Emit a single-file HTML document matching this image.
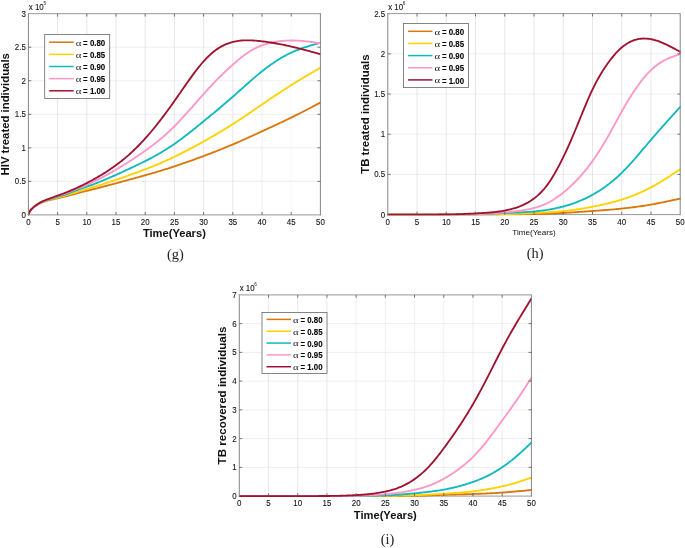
<!DOCTYPE html>
<html><head><meta charset="utf-8"><title>Figure</title>
<style>html,body{margin:0;padding:0;background:#fff}svg{display:block}</style></head>
<body>
<svg width="685" height="548" viewBox="0 0 685 548" font-family="'Liberation Sans',sans-serif">
<rect width="685" height="548" fill="#fff"/>
<path d="M28.40 181.37H320.40M28.40 147.83H320.40M28.40 114.30H320.40M28.40 80.77H320.40M28.40 47.23H320.40" stroke="#e7e7e7" stroke-width="0.7" fill="none"/>
<path d="M57.60 13.70V214.90" stroke="#dcdcdc" stroke-width="0.7" stroke-opacity="1.00" fill="none"/>
<path d="M86.80 13.70V214.90" stroke="#dcdcdc" stroke-width="0.7" stroke-opacity="1.00" fill="none"/>
<path d="M116.00 13.70V214.90" stroke="#dcdcdc" stroke-width="0.7" stroke-opacity="1.00" fill="none"/>
<path d="M145.20 13.70V214.90" stroke="#dcdcdc" stroke-width="0.7" stroke-opacity="1.00" fill="none"/>
<path d="M174.40 13.70V214.90" stroke="#dcdcdc" stroke-width="0.7" stroke-opacity="1.00" fill="none"/>
<path d="M203.60 13.70V214.90" stroke="#dcdcdc" stroke-width="0.7" stroke-opacity="1.00" fill="none"/>
<path d="M232.80 13.70V214.90" stroke="#dcdcdc" stroke-width="0.7" stroke-opacity="1.00" fill="none"/>
<path d="M262.00 13.70V214.90" stroke="#dcdcdc" stroke-width="0.7" stroke-opacity="0.60" fill="none"/>
<path d="M291.20 13.70V214.90" stroke="#dcdcdc" stroke-width="0.7" stroke-opacity="0.25" fill="none"/>
<path d="M28.40 13.70H320.40M28.40 214.90H320.40" stroke="#989898" stroke-width="1" fill="none"/>
<clipPath id="cg"><rect x="27.90" y="13.70" width="293.20" height="202.20"/></clipPath>
<g clip-path="url(#cg)" fill="none" stroke-width="1.85" stroke-linejoin="round" stroke-linecap="round">
<path d="M28.40 214.30 L29.86 211.07 L31.32 209.46 L32.78 208.07 L34.24 206.85 L35.70 205.79 L37.16 204.86 L38.62 204.03 L40.08 203.29 L41.54 202.64 L43.00 202.07 L44.46 201.56 L45.92 201.10 L47.38 200.69 L48.84 200.31 L50.30 199.95 L51.76 199.61 L53.22 199.28 L54.68 198.95 L56.14 198.62 L57.60 198.29 L59.06 197.95 L60.52 197.61 L61.98 197.26 L63.44 196.91 L64.90 196.55 L66.36 196.19 L67.82 195.82 L69.28 195.45 L70.74 195.06 L72.20 194.67 L73.66 194.28 L75.12 193.88 L76.58 193.48 L78.04 193.09 L79.50 192.70 L80.96 192.32 L82.42 191.94 L83.88 191.57 L85.34 191.20 L86.80 190.84 L88.26 190.48 L89.72 190.12 L91.18 189.76 L92.64 189.39 L94.10 189.02 L95.56 188.65 L97.02 188.28 L98.48 187.90 L99.94 187.52 L101.40 187.14 L102.86 186.76 L104.32 186.37 L105.78 185.99 L107.24 185.60 L108.70 185.22 L110.16 184.83 L111.62 184.44 L113.08 184.05 L114.54 183.66 L116.00 183.27 L117.46 182.88 L118.92 182.49 L120.38 182.10 L121.84 181.70 L123.30 181.31 L124.76 180.92 L126.22 180.52 L127.68 180.13 L129.14 179.73 L130.60 179.33 L132.06 178.93 L133.52 178.53 L134.98 178.12 L136.44 177.72 L137.90 177.31 L139.36 176.90 L140.82 176.49 L142.28 176.08 L143.74 175.67 L145.20 175.26 L146.66 174.85 L148.12 174.44 L149.58 174.02 L151.04 173.61 L152.50 173.19 L153.96 172.77 L155.42 172.34 L156.88 171.91 L158.34 171.47 L159.80 171.03 L161.26 170.59 L162.72 170.14 L164.18 169.69 L165.64 169.23 L167.10 168.77 L168.56 168.30 L170.02 167.83 L171.48 167.36 L172.94 166.88 L174.40 166.40 L175.86 165.91 L177.32 165.42 L178.78 164.93 L180.24 164.43 L181.70 163.93 L183.16 163.43 L184.62 162.92 L186.08 162.41 L187.54 161.89 L189.00 161.38 L190.46 160.86 L191.92 160.33 L193.38 159.81 L194.84 159.28 L196.30 158.74 L197.76 158.21 L199.22 157.67 L200.68 157.13 L202.14 156.58 L203.60 156.04 L205.06 155.49 L206.52 154.94 L207.98 154.38 L209.44 153.83 L210.90 153.27 L212.36 152.71 L213.82 152.14 L215.28 151.57 L216.74 151.00 L218.20 150.42 L219.66 149.84 L221.12 149.25 L222.58 148.67 L224.04 148.07 L225.50 147.48 L226.96 146.88 L228.42 146.27 L229.88 145.66 L231.34 145.04 L232.80 144.42 L234.26 143.80 L235.72 143.17 L237.18 142.53 L238.64 141.89 L240.10 141.25 L241.56 140.60 L243.02 139.95 L244.48 139.30 L245.94 138.64 L247.40 137.98 L248.86 137.32 L250.32 136.66 L251.78 135.99 L253.24 135.32 L254.70 134.66 L256.16 133.99 L257.62 133.32 L259.08 132.64 L260.54 131.97 L262.00 131.30 L263.46 130.63 L264.92 129.96 L266.38 129.29 L267.84 128.62 L269.30 127.95 L270.76 127.27 L272.22 126.60 L273.68 125.92 L275.14 125.25 L276.60 124.57 L278.06 123.89 L279.52 123.20 L280.98 122.51 L282.44 121.82 L283.90 121.13 L285.36 120.43 L286.82 119.73 L288.28 119.03 L289.74 118.32 L291.20 117.60 L292.66 116.88 L294.12 116.16 L295.58 115.43 L297.04 114.70 L298.50 113.96 L299.96 113.22 L301.42 112.48 L302.88 111.73 L304.34 110.98 L305.80 110.23 L307.26 109.47 L308.72 108.72 L310.18 107.96 L311.64 107.20 L313.10 106.43 L314.56 105.67 L316.02 104.91 L317.48 104.14 L318.94 103.38 L320.40 102.61" stroke="#D9770B"/>
<path d="M28.40 214.30 L29.86 211.06 L31.32 209.43 L32.78 208.02 L34.24 206.78 L35.70 205.69 L37.16 204.72 L38.62 203.86 L40.08 203.09 L41.54 202.41 L43.00 201.80 L44.46 201.25 L45.92 200.75 L47.38 200.30 L48.84 199.88 L50.30 199.48 L51.76 199.10 L53.22 198.72 L54.68 198.34 L56.14 197.96 L57.60 197.58 L59.06 197.20 L60.52 196.81 L61.98 196.41 L63.44 196.01 L64.90 195.60 L66.36 195.18 L67.82 194.76 L69.28 194.33 L70.74 193.90 L72.20 193.45 L73.66 193.00 L75.12 192.55 L76.58 192.09 L78.04 191.64 L79.50 191.19 L80.96 190.74 L82.42 190.30 L83.88 189.86 L85.34 189.42 L86.80 188.99 L88.26 188.56 L89.72 188.13 L91.18 187.70 L92.64 187.26 L94.10 186.82 L95.56 186.37 L97.02 185.92 L98.48 185.47 L99.94 185.01 L101.40 184.55 L102.86 184.09 L104.32 183.62 L105.78 183.15 L107.24 182.68 L108.70 182.20 L110.16 181.72 L111.62 181.24 L113.08 180.76 L114.54 180.27 L116.00 179.78 L117.46 179.28 L118.92 178.78 L120.38 178.28 L121.84 177.78 L123.30 177.28 L124.76 176.77 L126.22 176.26 L127.68 175.75 L129.14 175.23 L130.60 174.71 L132.06 174.20 L133.52 173.68 L134.98 173.15 L136.44 172.63 L137.90 172.10 L139.36 171.57 L140.82 171.03 L142.28 170.49 L143.74 169.94 L145.20 169.39 L146.66 168.83 L148.12 168.26 L149.58 167.69 L151.04 167.10 L152.50 166.52 L153.96 165.92 L155.42 165.31 L156.88 164.70 L158.34 164.08 L159.80 163.45 L161.26 162.81 L162.72 162.16 L164.18 161.51 L165.64 160.85 L167.10 160.18 L168.56 159.50 L170.02 158.82 L171.48 158.13 L172.94 157.44 L174.40 156.73 L175.86 156.03 L177.32 155.31 L178.78 154.60 L180.24 153.87 L181.70 153.14 L183.16 152.40 L184.62 151.66 L186.08 150.92 L187.54 150.16 L189.00 149.40 L190.46 148.64 L191.92 147.87 L193.38 147.10 L194.84 146.32 L196.30 145.53 L197.76 144.74 L199.22 143.95 L200.68 143.14 L202.14 142.34 L203.60 141.53 L205.06 140.71 L206.52 139.89 L207.98 139.06 L209.44 138.23 L210.90 137.39 L212.36 136.55 L213.82 135.70 L215.28 134.85 L216.74 133.99 L218.20 133.12 L219.66 132.25 L221.12 131.37 L222.58 130.48 L224.04 129.59 L225.50 128.69 L226.96 127.79 L228.42 126.88 L229.88 125.96 L231.34 125.04 L232.80 124.11 L234.26 123.17 L235.72 122.22 L237.18 121.27 L238.64 120.31 L240.10 119.35 L241.56 118.38 L243.02 117.41 L244.48 116.43 L245.94 115.45 L247.40 114.47 L248.86 113.48 L250.32 112.49 L251.78 111.50 L253.24 110.50 L254.70 109.50 L256.16 108.51 L257.62 107.51 L259.08 106.51 L260.54 105.51 L262.00 104.51 L263.46 103.51 L264.92 102.52 L266.38 101.52 L267.84 100.53 L269.30 99.53 L270.76 98.55 L272.22 97.56 L273.68 96.58 L275.14 95.60 L276.60 94.62 L278.06 93.65 L279.52 92.68 L280.98 91.72 L282.44 90.76 L283.90 89.81 L285.36 88.86 L286.82 87.92 L288.28 86.98 L289.74 86.06 L291.20 85.14 L292.66 84.22 L294.12 83.32 L295.58 82.42 L297.04 81.52 L298.50 80.64 L299.96 79.75 L301.42 78.88 L302.88 78.01 L304.34 77.14 L305.80 76.28 L307.26 75.42 L308.72 74.56 L310.18 73.71 L311.64 72.86 L313.10 72.01 L314.56 71.16 L316.02 70.32 L317.48 69.47 L318.94 68.63 L320.40 67.79" stroke="#FFD200"/>
<path d="M28.40 214.30 L29.86 211.07 L31.32 209.43 L32.78 208.01 L34.24 206.75 L35.70 205.65 L37.16 204.66 L38.62 203.78 L40.08 202.98 L41.54 202.26 L43.00 201.62 L44.46 201.03 L45.92 200.49 L47.38 199.99 L48.84 199.52 L50.30 199.08 L51.76 198.64 L53.22 198.21 L54.68 197.77 L56.14 197.33 L57.60 196.88 L59.06 196.43 L60.52 195.97 L61.98 195.50 L63.44 195.02 L64.90 194.53 L66.36 194.03 L67.82 193.53 L69.28 193.01 L70.74 192.49 L72.20 191.95 L73.66 191.41 L75.12 190.87 L76.58 190.33 L78.04 189.79 L79.50 189.25 L80.96 188.72 L82.42 188.20 L83.88 187.68 L85.34 187.17 L86.80 186.66 L88.26 186.15 L89.72 185.63 L91.18 185.11 L92.64 184.57 L94.10 184.03 L95.56 183.47 L97.02 182.90 L98.48 182.33 L99.94 181.74 L101.40 181.15 L102.86 180.55 L104.32 179.95 L105.78 179.33 L107.24 178.71 L108.70 178.09 L110.16 177.45 L111.62 176.82 L113.08 176.17 L114.54 175.53 L116.00 174.87 L117.46 174.22 L118.92 173.56 L120.38 172.90 L121.84 172.23 L123.30 171.56 L124.76 170.89 L126.22 170.21 L127.68 169.53 L129.14 168.85 L130.60 168.16 L132.06 167.47 L133.52 166.78 L134.98 166.08 L136.44 165.38 L137.90 164.68 L139.36 163.96 L140.82 163.25 L142.28 162.53 L143.74 161.80 L145.20 161.07 L146.66 160.33 L148.12 159.58 L149.58 158.83 L151.04 158.06 L152.50 157.28 L153.96 156.50 L155.42 155.70 L156.88 154.88 L158.34 154.05 L159.80 153.21 L161.26 152.35 L162.72 151.47 L164.18 150.58 L165.64 149.68 L167.10 148.76 L168.56 147.82 L170.02 146.87 L171.48 145.90 L172.94 144.91 L174.40 143.91 L175.86 142.89 L177.32 141.85 L178.78 140.80 L180.24 139.74 L181.70 138.65 L183.16 137.56 L184.62 136.45 L186.08 135.33 L187.54 134.20 L189.00 133.06 L190.46 131.91 L191.92 130.75 L193.38 129.59 L194.84 128.41 L196.30 127.23 L197.76 126.05 L199.22 124.86 L200.68 123.67 L202.14 122.47 L203.60 121.28 L205.06 120.08 L206.52 118.89 L207.98 117.69 L209.44 116.49 L210.90 115.29 L212.36 114.09 L213.82 112.88 L215.28 111.67 L216.74 110.46 L218.20 109.24 L219.66 108.01 L221.12 106.78 L222.58 105.55 L224.04 104.31 L225.50 103.06 L226.96 101.81 L228.42 100.55 L229.88 99.28 L231.34 98.01 L232.80 96.73 L234.26 95.44 L235.72 94.15 L237.18 92.85 L238.64 91.55 L240.10 90.25 L241.56 88.94 L243.02 87.64 L244.48 86.34 L245.94 85.04 L247.40 83.74 L248.86 82.45 L250.32 81.17 L251.78 79.89 L253.24 78.63 L254.70 77.37 L256.16 76.13 L257.62 74.90 L259.08 73.69 L260.54 72.50 L262.00 71.33 L263.46 70.17 L264.92 69.04 L266.38 67.93 L267.84 66.84 L269.30 65.77 L270.76 64.72 L272.22 63.70 L273.68 62.70 L275.14 61.72 L276.60 60.77 L278.06 59.84 L279.52 58.94 L280.98 58.06 L282.44 57.21 L283.90 56.38 L285.36 55.58 L286.82 54.80 L288.28 54.05 L289.74 53.33 L291.20 52.64 L292.66 51.97 L294.12 51.33 L295.58 50.72 L297.04 50.12 L298.50 49.56 L299.96 49.01 L301.42 48.48 L302.88 47.97 L304.34 47.47 L305.80 47.00 L307.26 46.53 L308.72 46.08 L310.18 45.64 L311.64 45.21 L313.10 44.78 L314.56 44.37 L316.02 43.96 L317.48 43.55 L318.94 43.15 L320.40 42.75" stroke="#10B9BD"/>
<path d="M28.40 214.30 L29.86 211.06 L31.32 209.40 L32.78 207.96 L34.24 206.69 L35.70 205.55 L37.16 204.54 L38.62 203.62 L40.08 202.79 L41.54 202.04 L43.00 201.36 L44.46 200.74 L45.92 200.16 L47.38 199.62 L48.84 199.11 L50.30 198.62 L51.76 198.13 L53.22 197.65 L54.68 197.17 L56.14 196.68 L57.60 196.18 L59.06 195.68 L60.52 195.16 L61.98 194.64 L63.44 194.11 L64.90 193.57 L66.36 193.02 L67.82 192.46 L69.28 191.89 L70.74 191.32 L72.20 190.73 L73.66 190.14 L75.12 189.54 L76.58 188.94 L78.04 188.34 L79.50 187.73 L80.96 187.13 L82.42 186.53 L83.88 185.93 L85.34 185.32 L86.80 184.71 L88.26 184.09 L89.72 183.45 L91.18 182.81 L92.64 182.14 L94.10 181.46 L95.56 180.76 L97.02 180.05 L98.48 179.32 L99.94 178.58 L101.40 177.83 L102.86 177.06 L104.32 176.28 L105.78 175.49 L107.24 174.68 L108.70 173.87 L110.16 173.04 L111.62 172.21 L113.08 171.36 L114.54 170.51 L116.00 169.65 L117.46 168.78 L118.92 167.91 L120.38 167.03 L121.84 166.14 L123.30 165.24 L124.76 164.33 L126.22 163.42 L127.68 162.50 L129.14 161.57 L130.60 160.64 L132.06 159.69 L133.52 158.74 L134.98 157.77 L136.44 156.80 L137.90 155.82 L139.36 154.82 L140.82 153.82 L142.28 152.81 L143.74 151.78 L145.20 150.75 L146.66 149.70 L148.12 148.64 L149.58 147.57 L151.04 146.48 L152.50 145.37 L153.96 144.25 L155.42 143.11 L156.88 141.95 L158.34 140.77 L159.80 139.57 L161.26 138.35 L162.72 137.11 L164.18 135.84 L165.64 134.55 L167.10 133.24 L168.56 131.90 L170.02 130.53 L171.48 129.14 L172.94 127.73 L174.40 126.28 L175.86 124.81 L177.32 123.31 L178.78 121.78 L180.24 120.23 L181.70 118.67 L183.16 117.08 L184.62 115.48 L186.08 113.86 L187.54 112.23 L189.00 110.59 L190.46 108.94 L191.92 107.28 L193.38 105.62 L194.84 103.96 L196.30 102.29 L197.76 100.63 L199.22 98.97 L200.68 97.32 L202.14 95.67 L203.60 94.04 L205.06 92.41 L206.52 90.80 L207.98 89.20 L209.44 87.62 L210.90 86.05 L212.36 84.50 L213.82 82.96 L215.28 81.45 L216.74 79.95 L218.20 78.47 L219.66 77.00 L221.12 75.56 L222.58 74.14 L224.04 72.74 L225.50 71.35 L226.96 69.98 L228.42 68.63 L229.88 67.29 L231.34 65.97 L232.80 64.66 L234.26 63.37 L235.72 62.10 L237.18 60.84 L238.64 59.62 L240.10 58.41 L241.56 57.24 L243.02 56.11 L244.48 55.01 L245.94 53.95 L247.40 52.93 L248.86 51.96 L250.32 51.05 L251.78 50.18 L253.24 49.36 L254.70 48.59 L256.16 47.87 L257.62 47.19 L259.08 46.55 L260.54 45.95 L262.00 45.39 L263.46 44.86 L264.92 44.37 L266.38 43.92 L267.84 43.49 L269.30 43.10 L270.76 42.74 L272.22 42.41 L273.68 42.11 L275.14 41.84 L276.60 41.60 L278.06 41.38 L279.52 41.19 L280.98 41.03 L282.44 40.89 L283.90 40.77 L285.36 40.68 L286.82 40.61 L288.28 40.55 L289.74 40.52 L291.20 40.51 L292.66 40.52 L294.12 40.54 L295.58 40.58 L297.04 40.64 L298.50 40.72 L299.96 40.81 L301.42 40.91 L302.88 41.03 L304.34 41.17 L305.80 41.31 L307.26 41.47 L308.72 41.64 L310.18 41.82 L311.64 42.01 L313.10 42.21 L314.56 42.41 L316.02 42.61 L317.48 42.83 L318.94 43.04 L320.40 43.25" stroke="#FF97C6"/>
<path d="M28.40 214.30 L29.86 211.05 L31.32 209.38 L32.78 207.92 L34.24 206.63 L35.70 205.48 L37.16 204.44 L38.62 203.50 L40.08 202.65 L41.54 201.88 L43.00 201.17 L44.46 200.52 L45.92 199.91 L47.38 199.34 L48.84 198.80 L50.30 198.28 L51.76 197.76 L53.22 197.25 L54.68 196.73 L56.14 196.21 L57.60 195.69 L59.06 195.15 L60.52 194.61 L61.98 194.05 L63.44 193.49 L64.90 192.92 L66.36 192.34 L67.82 191.75 L69.28 191.15 L70.74 190.54 L72.20 189.91 L73.66 189.28 L75.12 188.64 L76.58 187.98 L78.04 187.31 L79.50 186.64 L80.96 185.94 L82.42 185.24 L83.88 184.52 L85.34 183.79 L86.80 183.05 L88.26 182.30 L89.72 181.54 L91.18 180.76 L92.64 179.97 L94.10 179.16 L95.56 178.35 L97.02 177.52 L98.48 176.67 L99.94 175.81 L101.40 174.93 L102.86 174.04 L104.32 173.13 L105.78 172.20 L107.24 171.26 L108.70 170.29 L110.16 169.31 L111.62 168.31 L113.08 167.29 L114.54 166.25 L116.00 165.19 L117.46 164.11 L118.92 163.00 L120.38 161.88 L121.84 160.73 L123.30 159.55 L124.76 158.35 L126.22 157.12 L127.68 155.86 L129.14 154.58 L130.60 153.26 L132.06 151.92 L133.52 150.54 L134.98 149.14 L136.44 147.70 L137.90 146.23 L139.36 144.74 L140.82 143.22 L142.28 141.67 L143.74 140.08 L145.20 138.48 L146.66 136.84 L148.12 135.18 L149.58 133.49 L151.04 131.77 L152.50 130.03 L153.96 128.26 L155.42 126.46 L156.88 124.64 L158.34 122.80 L159.80 120.93 L161.26 119.04 L162.72 117.12 L164.18 115.18 L165.64 113.22 L167.10 111.24 L168.56 109.24 L170.02 107.21 L171.48 105.17 L172.94 103.12 L174.40 101.05 L175.86 98.96 L177.32 96.87 L178.78 94.77 L180.24 92.67 L181.70 90.56 L183.16 88.46 L184.62 86.36 L186.08 84.28 L187.54 82.20 L189.00 80.14 L190.46 78.11 L191.92 76.09 L193.38 74.10 L194.84 72.15 L196.30 70.23 L197.76 68.35 L199.22 66.52 L200.68 64.74 L202.14 63.02 L203.60 61.36 L205.06 59.76 L206.52 58.22 L207.98 56.76 L209.44 55.35 L210.90 54.02 L212.36 52.75 L213.82 51.55 L215.28 50.42 L216.74 49.36 L218.20 48.37 L219.66 47.45 L221.12 46.60 L222.58 45.81 L224.04 45.09 L225.50 44.43 L226.96 43.83 L228.42 43.28 L229.88 42.79 L231.34 42.35 L232.80 41.96 L234.26 41.62 L235.72 41.32 L237.18 41.06 L238.64 40.85 L240.10 40.67 L241.56 40.54 L243.02 40.43 L244.48 40.36 L245.94 40.32 L247.40 40.30 L248.86 40.31 L250.32 40.35 L251.78 40.41 L253.24 40.49 L254.70 40.58 L256.16 40.70 L257.62 40.83 L259.08 40.98 L260.54 41.14 L262.00 41.31 L263.46 41.49 L264.92 41.68 L266.38 41.88 L267.84 42.09 L269.30 42.31 L270.76 42.53 L272.22 42.77 L273.68 43.01 L275.14 43.26 L276.60 43.52 L278.06 43.79 L279.52 44.06 L280.98 44.35 L282.44 44.64 L283.90 44.94 L285.36 45.24 L286.82 45.56 L288.28 45.88 L289.74 46.20 L291.20 46.54 L292.66 46.88 L294.12 47.23 L295.58 47.58 L297.04 47.94 L298.50 48.30 L299.96 48.67 L301.42 49.05 L302.88 49.43 L304.34 49.81 L305.80 50.19 L307.26 50.58 L308.72 50.98 L310.18 51.37 L311.64 51.77 L313.10 52.17 L314.56 52.57 L316.02 52.97 L317.48 53.38 L318.94 53.78 L320.40 54.19" stroke="#A1122F"/>
</g>
<path d="M28.40 13.70V214.90M320.40 13.70V214.90" stroke="#858585" stroke-width="1" stroke-linecap="square" fill="none"/>
<path d="M57.60 214.90v-2.9M57.60 13.70v2.9M86.80 214.90v-2.9M86.80 13.70v2.9M116.00 214.90v-2.9M116.00 13.70v2.9M145.20 214.90v-2.9M145.20 13.70v2.9M174.40 214.90v-2.9M174.40 13.70v2.9M203.60 214.90v-2.9M203.60 13.70v2.9M232.80 214.90v-2.9M232.80 13.70v2.9M262.00 214.90v-2.9M262.00 13.70v2.9M291.20 214.90v-2.9M291.20 13.70v2.9M28.40 181.37h2.9M320.40 181.37h-2.9M28.40 147.83h2.9M320.40 147.83h-2.9M28.40 114.30h2.9M320.40 114.30h-2.9M28.40 80.77h2.9M320.40 80.77h-2.9M28.40 47.23h2.9M320.40 47.23h-2.9" stroke="#555" stroke-width="0.8" fill="none"/>
<g font-size="8.90" fill="#111" stroke="#111" stroke-width="0.1">
<text transform="translate(28.40 225.10) scale(0.89 1)" text-anchor="middle">0</text>
<text transform="translate(57.60 225.10) scale(0.89 1)" text-anchor="middle">5</text>
<text transform="translate(86.80 225.10) scale(0.89 1)" text-anchor="middle">10</text>
<text transform="translate(116.00 225.10) scale(0.89 1)" text-anchor="middle">15</text>
<text transform="translate(145.20 225.10) scale(0.89 1)" text-anchor="middle">20</text>
<text transform="translate(174.40 225.10) scale(0.89 1)" text-anchor="middle">25</text>
<text transform="translate(203.60 225.10) scale(0.89 1)" text-anchor="middle">30</text>
<text transform="translate(232.80 225.10) scale(0.89 1)" text-anchor="middle">35</text>
<text transform="translate(262.00 225.10) scale(0.89 1)" text-anchor="middle">40</text>
<text transform="translate(291.20 225.10) scale(0.89 1)" text-anchor="middle">45</text>
<text transform="translate(320.40 225.10) scale(0.89 1)" text-anchor="middle">50</text>
<text transform="translate(25.80 217.95) scale(0.89 1)" text-anchor="end">0</text>
<text transform="translate(25.80 184.42) scale(0.89 1)" text-anchor="end">0.5</text>
<text transform="translate(25.80 150.88) scale(0.89 1)" text-anchor="end">1</text>
<text transform="translate(25.80 117.35) scale(0.89 1)" text-anchor="end">1.5</text>
<text transform="translate(25.80 83.82) scale(0.89 1)" text-anchor="end">2</text>
<text transform="translate(25.80 50.28) scale(0.89 1)" text-anchor="end">2.5</text>
<text transform="translate(25.80 16.75) scale(0.89 1)" text-anchor="end">3</text>
<text transform="translate(28.80 10.10) scale(0.89 1)">x 10<tspan font-size="5.2" dy="-5.3" dx="-0.3" stroke="none">5</tspan></text>
</g>
<text x="174.40" y="237.15" text-anchor="middle" font-size="11.15" font-weight="bold" fill="#111">Time(Years)</text>
<text transform="translate(8.90 114.30) rotate(-90)" text-anchor="middle" font-size="11.35" font-weight="bold" fill="#111">HIV treated individuals</text>
<text x="175.40" y="258.60" text-anchor="middle" font-family="'Liberation Serif',serif" font-size="14.4" fill="#222">(g)</text>
<rect x="44.70" y="34.40" width="65" height="64.10" fill="#fff" stroke="#666" stroke-width="0.8"/>
<path d="M49.20 42.20h24.5" stroke="#D9770B" stroke-width="1.5" fill="none"/>
<text transform="translate(75.70 45.60) scale(1.36 1)" font-family="'Liberation Serif',serif" font-size="7.9" fill="#1a1a1a">α</text>
<text transform="translate(83.10 45.80) scale(0.84 1)" font-size="9.4" font-weight="bold" fill="#000" stroke="#000" stroke-width="0.1">= 0.80</text>
<path d="M49.20 54.35h24.5" stroke="#FFD200" stroke-width="1.5" fill="none"/>
<text transform="translate(75.70 57.75) scale(1.36 1)" font-family="'Liberation Serif',serif" font-size="7.9" fill="#1a1a1a">α</text>
<text transform="translate(83.10 57.95) scale(0.84 1)" font-size="9.4" font-weight="bold" fill="#000" stroke="#000" stroke-width="0.1">= 0.85</text>
<path d="M49.20 66.50h24.5" stroke="#10B9BD" stroke-width="1.5" fill="none"/>
<text transform="translate(75.70 69.90) scale(1.36 1)" font-family="'Liberation Serif',serif" font-size="7.9" fill="#1a1a1a">α</text>
<text transform="translate(83.10 70.10) scale(0.84 1)" font-size="9.4" font-weight="bold" fill="#000" stroke="#000" stroke-width="0.1">= 0.90</text>
<path d="M49.20 78.65h24.5" stroke="#FF97C6" stroke-width="1.5" fill="none"/>
<text transform="translate(75.70 82.05) scale(1.36 1)" font-family="'Liberation Serif',serif" font-size="7.9" fill="#1a1a1a">α</text>
<text transform="translate(83.10 82.25) scale(0.84 1)" font-size="9.4" font-weight="bold" fill="#000" stroke="#000" stroke-width="0.1">= 0.95</text>
<path d="M49.20 90.80h24.5" stroke="#A1122F" stroke-width="1.5" fill="none"/>
<text transform="translate(75.70 94.20) scale(1.36 1)" font-family="'Liberation Serif',serif" font-size="7.9" fill="#1a1a1a">α</text>
<text transform="translate(83.10 94.40) scale(0.84 1)" font-size="9.4" font-weight="bold" fill="#000" stroke="#000" stroke-width="0.1">= 1.00</text>
<path d="M387.80 174.40H680.20M387.80 134.20H680.20M387.80 94.00H680.20M387.80 53.80H680.20" stroke="#e7e7e7" stroke-width="0.7" fill="none"/>
<path d="M417.04 13.60V214.60" stroke="#dcdcdc" stroke-width="0.7" stroke-opacity="1.00" fill="none"/>
<path d="M446.28 13.60V214.60" stroke="#dcdcdc" stroke-width="0.7" stroke-opacity="1.00" fill="none"/>
<path d="M475.52 13.60V214.60" stroke="#dcdcdc" stroke-width="0.7" stroke-opacity="1.00" fill="none"/>
<path d="M504.76 13.60V214.60" stroke="#dcdcdc" stroke-width="0.7" stroke-opacity="1.00" fill="none"/>
<path d="M534.00 13.60V214.60" stroke="#dcdcdc" stroke-width="0.7" stroke-opacity="1.00" fill="none"/>
<path d="M563.24 13.60V214.60" stroke="#dcdcdc" stroke-width="0.7" stroke-opacity="1.00" fill="none"/>
<path d="M592.48 13.60V214.60" stroke="#dcdcdc" stroke-width="0.7" stroke-opacity="1.00" fill="none"/>
<path d="M621.72 13.60V214.60" stroke="#dcdcdc" stroke-width="0.7" stroke-opacity="1.00" fill="none"/>
<path d="M650.96 13.60V214.60" stroke="#dcdcdc" stroke-width="0.7" stroke-opacity="1.00" fill="none"/>
<path d="M387.80 13.60H680.20M387.80 214.60H680.20" stroke="#989898" stroke-width="1" fill="none"/>
<clipPath id="ch"><rect x="387.30" y="13.60" width="293.60" height="202.00"/></clipPath>
<g clip-path="url(#ch)" fill="none" stroke-width="1.85" stroke-linejoin="round" stroke-linecap="round">
<path d="M387.80 214.60 L389.26 214.60 L390.72 214.60 L392.19 214.60 L393.65 214.60 L395.11 214.60 L396.57 214.60 L398.03 214.60 L399.50 214.60 L400.96 214.60 L402.42 214.60 L403.88 214.60 L405.34 214.60 L406.81 214.60 L408.27 214.60 L409.73 214.60 L411.19 214.60 L412.65 214.60 L414.12 214.60 L415.58 214.60 L417.04 214.60 L418.50 214.60 L419.96 214.60 L421.43 214.60 L422.89 214.60 L424.35 214.60 L425.81 214.60 L427.27 214.60 L428.74 214.60 L430.20 214.60 L431.66 214.60 L433.12 214.60 L434.58 214.60 L436.05 214.60 L437.51 214.60 L438.97 214.60 L440.43 214.60 L441.89 214.60 L443.36 214.60 L444.82 214.60 L446.28 214.60 L447.74 214.60 L449.20 214.60 L450.67 214.60 L452.13 214.60 L453.59 214.60 L455.05 214.60 L456.51 214.60 L457.98 214.60 L459.44 214.60 L460.90 214.60 L462.36 214.60 L463.82 214.60 L465.29 214.60 L466.75 214.60 L468.21 214.60 L469.67 214.60 L471.13 214.60 L472.60 214.60 L474.06 214.60 L475.52 214.60 L476.98 214.60 L478.44 214.60 L479.91 214.59 L481.37 214.59 L482.83 214.58 L484.29 214.57 L485.75 214.56 L487.22 214.55 L488.68 214.54 L490.14 214.53 L491.60 214.52 L493.06 214.51 L494.53 214.50 L495.99 214.48 L497.45 214.47 L498.91 214.46 L500.37 214.44 L501.84 214.43 L503.30 214.41 L504.76 214.40 L506.22 214.39 L507.68 214.37 L509.15 214.36 L510.61 214.34 L512.07 214.33 L513.53 214.31 L514.99 214.30 L516.46 214.28 L517.92 214.26 L519.38 214.24 L520.84 214.22 L522.30 214.20 L523.77 214.18 L525.23 214.16 L526.69 214.13 L528.15 214.11 L529.61 214.08 L531.08 214.06 L532.54 214.03 L534.00 214.00 L535.46 213.97 L536.92 213.93 L538.39 213.89 L539.85 213.85 L541.31 213.81 L542.77 213.76 L544.23 213.71 L545.70 213.66 L547.16 213.61 L548.62 213.55 L550.08 213.49 L551.54 213.43 L553.01 213.37 L554.47 213.31 L555.93 213.24 L557.39 213.18 L558.85 213.11 L560.32 213.04 L561.78 212.97 L563.24 212.90 L564.70 212.82 L566.16 212.74 L567.63 212.66 L569.09 212.58 L570.55 212.49 L572.01 212.40 L573.47 212.31 L574.94 212.22 L576.40 212.12 L577.86 212.03 L579.32 211.93 L580.78 211.83 L582.25 211.73 L583.71 211.63 L585.17 211.53 L586.63 211.43 L588.09 211.33 L589.56 211.23 L591.02 211.12 L592.48 211.02 L593.94 210.91 L595.40 210.81 L596.87 210.70 L598.33 210.60 L599.79 210.49 L601.25 210.38 L602.71 210.27 L604.18 210.16 L605.64 210.04 L607.10 209.92 L608.56 209.81 L610.02 209.68 L611.49 209.56 L612.95 209.43 L614.41 209.30 L615.87 209.17 L617.33 209.03 L618.80 208.89 L620.26 208.74 L621.72 208.59 L623.18 208.44 L624.64 208.28 L626.11 208.12 L627.57 207.95 L629.03 207.78 L630.49 207.60 L631.95 207.42 L633.42 207.24 L634.88 207.04 L636.34 206.85 L637.80 206.65 L639.26 206.44 L640.73 206.23 L642.19 206.01 L643.65 205.78 L645.11 205.55 L646.57 205.32 L648.04 205.08 L649.50 204.83 L650.96 204.57 L652.42 204.31 L653.88 204.05 L655.35 203.78 L656.81 203.50 L658.27 203.22 L659.73 202.93 L661.19 202.64 L662.66 202.35 L664.12 202.05 L665.58 201.74 L667.04 201.44 L668.50 201.13 L669.97 200.82 L671.43 200.51 L672.89 200.19 L674.35 199.88 L675.81 199.56 L677.28 199.24 L678.74 198.92 L680.20 198.60" stroke="#D9770B"/>
<path d="M387.80 214.60 L389.26 214.60 L390.72 214.60 L392.19 214.60 L393.65 214.60 L395.11 214.60 L396.57 214.60 L398.03 214.60 L399.50 214.60 L400.96 214.60 L402.42 214.60 L403.88 214.60 L405.34 214.60 L406.81 214.60 L408.27 214.60 L409.73 214.60 L411.19 214.60 L412.65 214.60 L414.12 214.60 L415.58 214.60 L417.04 214.60 L418.50 214.60 L419.96 214.60 L421.43 214.60 L422.89 214.60 L424.35 214.60 L425.81 214.60 L427.27 214.60 L428.74 214.60 L430.20 214.60 L431.66 214.60 L433.12 214.60 L434.58 214.60 L436.05 214.60 L437.51 214.60 L438.97 214.60 L440.43 214.60 L441.89 214.60 L443.36 214.60 L444.82 214.60 L446.28 214.60 L447.74 214.60 L449.20 214.60 L450.67 214.60 L452.13 214.60 L453.59 214.60 L455.05 214.60 L456.51 214.60 L457.98 214.60 L459.44 214.60 L460.90 214.60 L462.36 214.60 L463.82 214.60 L465.29 214.60 L466.75 214.60 L468.21 214.60 L469.67 214.60 L471.13 214.60 L472.60 214.60 L474.06 214.60 L475.52 214.60 L476.98 214.60 L478.44 214.59 L479.91 214.59 L481.37 214.58 L482.83 214.57 L484.29 214.55 L485.75 214.54 L487.22 214.52 L488.68 214.50 L490.14 214.48 L491.60 214.45 L493.06 214.43 L494.53 214.40 L495.99 214.38 L497.45 214.35 L498.91 214.32 L500.37 214.29 L501.84 214.26 L503.30 214.23 L504.76 214.20 L506.22 214.16 L507.68 214.13 L509.15 214.08 L510.61 214.04 L512.07 213.99 L513.53 213.93 L514.99 213.88 L516.46 213.82 L517.92 213.76 L519.38 213.70 L520.84 213.63 L522.30 213.57 L523.77 213.50 L525.23 213.43 L526.69 213.36 L528.15 213.29 L529.61 213.22 L531.08 213.16 L532.54 213.09 L534.00 213.02 L535.46 212.95 L536.92 212.88 L538.39 212.82 L539.85 212.75 L541.31 212.68 L542.77 212.60 L544.23 212.53 L545.70 212.45 L547.16 212.38 L548.62 212.29 L550.08 212.21 L551.54 212.12 L553.01 212.02 L554.47 211.92 L555.93 211.81 L557.39 211.70 L558.85 211.57 L560.32 211.44 L561.78 211.31 L563.24 211.16 L564.70 211.01 L566.16 210.85 L567.63 210.68 L569.09 210.50 L570.55 210.31 L572.01 210.12 L573.47 209.92 L574.94 209.72 L576.40 209.50 L577.86 209.28 L579.32 209.05 L580.78 208.82 L582.25 208.58 L583.71 208.33 L585.17 208.08 L586.63 207.82 L588.09 207.56 L589.56 207.29 L591.02 207.02 L592.48 206.74 L593.94 206.45 L595.40 206.16 L596.87 205.87 L598.33 205.57 L599.79 205.26 L601.25 204.94 L602.71 204.62 L604.18 204.29 L605.64 203.95 L607.10 203.61 L608.56 203.25 L610.02 202.89 L611.49 202.52 L612.95 202.13 L614.41 201.74 L615.87 201.33 L617.33 200.92 L618.80 200.49 L620.26 200.05 L621.72 199.60 L623.18 199.13 L624.64 198.65 L626.11 198.16 L627.57 197.65 L629.03 197.13 L630.49 196.60 L631.95 196.05 L633.42 195.49 L634.88 194.91 L636.34 194.31 L637.80 193.70 L639.26 193.07 L640.73 192.43 L642.19 191.77 L643.65 191.09 L645.11 190.39 L646.57 189.67 L648.04 188.94 L649.50 188.19 L650.96 187.42 L652.42 186.63 L653.88 185.82 L655.35 184.99 L656.81 184.15 L658.27 183.29 L659.73 182.42 L661.19 181.53 L662.66 180.63 L664.12 179.72 L665.58 178.80 L667.04 177.87 L668.50 176.93 L669.97 175.98 L671.43 175.03 L672.89 174.07 L674.35 173.10 L675.81 172.13 L677.28 171.16 L678.74 170.19 L680.20 169.21" stroke="#FFD200"/>
<path d="M387.80 214.60 L389.26 214.60 L390.72 214.60 L392.19 214.60 L393.65 214.60 L395.11 214.60 L396.57 214.60 L398.03 214.60 L399.50 214.60 L400.96 214.60 L402.42 214.60 L403.88 214.60 L405.34 214.60 L406.81 214.60 L408.27 214.60 L409.73 214.60 L411.19 214.60 L412.65 214.60 L414.12 214.60 L415.58 214.60 L417.04 214.60 L418.50 214.60 L419.96 214.60 L421.43 214.60 L422.89 214.60 L424.35 214.60 L425.81 214.60 L427.27 214.60 L428.74 214.60 L430.20 214.60 L431.66 214.60 L433.12 214.60 L434.58 214.60 L436.05 214.60 L437.51 214.60 L438.97 214.60 L440.43 214.60 L441.89 214.60 L443.36 214.60 L444.82 214.60 L446.28 214.60 L447.74 214.60 L449.20 214.60 L450.67 214.60 L452.13 214.60 L453.59 214.59 L455.05 214.59 L456.51 214.59 L457.98 214.58 L459.44 214.58 L460.90 214.57 L462.36 214.57 L463.82 214.56 L465.29 214.56 L466.75 214.55 L468.21 214.54 L469.67 214.54 L471.13 214.53 L472.60 214.52 L474.06 214.51 L475.52 214.50 L476.98 214.48 L478.44 214.45 L479.91 214.41 L481.37 214.36 L482.83 214.30 L484.29 214.23 L485.75 214.15 L487.22 214.07 L488.68 213.98 L490.14 213.89 L491.60 213.80 L493.06 213.71 L494.53 213.62 L495.99 213.53 L497.45 213.44 L498.91 213.35 L500.37 213.26 L501.84 213.18 L503.30 213.11 L504.76 213.04 L506.22 212.97 L507.68 212.90 L509.15 212.84 L510.61 212.78 L512.07 212.72 L513.53 212.66 L514.99 212.60 L516.46 212.54 L517.92 212.48 L519.38 212.41 L520.84 212.35 L522.30 212.27 L523.77 212.20 L525.23 212.12 L526.69 212.03 L528.15 211.94 L529.61 211.84 L531.08 211.73 L532.54 211.61 L534.00 211.48 L535.46 211.35 L536.92 211.20 L538.39 211.05 L539.85 210.88 L541.31 210.70 L542.77 210.51 L544.23 210.31 L545.70 210.10 L547.16 209.88 L548.62 209.64 L550.08 209.39 L551.54 209.13 L553.01 208.85 L554.47 208.56 L555.93 208.26 L557.39 207.94 L558.85 207.60 L560.32 207.25 L561.78 206.89 L563.24 206.50 L564.70 206.11 L566.16 205.69 L567.63 205.26 L569.09 204.81 L570.55 204.34 L572.01 203.85 L573.47 203.34 L574.94 202.82 L576.40 202.27 L577.86 201.70 L579.32 201.11 L580.78 200.50 L582.25 199.87 L583.71 199.22 L585.17 198.54 L586.63 197.84 L588.09 197.12 L589.56 196.38 L591.02 195.60 L592.48 194.81 L593.94 193.99 L595.40 193.14 L596.87 192.27 L598.33 191.37 L599.79 190.44 L601.25 189.48 L602.71 188.50 L604.18 187.49 L605.64 186.44 L607.10 185.37 L608.56 184.26 L610.02 183.13 L611.49 181.96 L612.95 180.76 L614.41 179.52 L615.87 178.25 L617.33 176.95 L618.80 175.61 L620.26 174.24 L621.72 172.83 L623.18 171.38 L624.64 169.90 L626.11 168.39 L627.57 166.84 L629.03 165.27 L630.49 163.67 L631.95 162.05 L633.42 160.41 L634.88 158.74 L636.34 157.06 L637.80 155.36 L639.26 153.65 L640.73 151.93 L642.19 150.20 L643.65 148.47 L645.11 146.73 L646.57 145.00 L648.04 143.27 L649.50 141.54 L650.96 139.82 L652.42 138.12 L653.88 136.43 L655.35 134.74 L656.81 133.07 L658.27 131.40 L659.73 129.74 L661.19 128.09 L662.66 126.45 L664.12 124.81 L665.58 123.18 L667.04 121.55 L668.50 119.92 L669.97 118.30 L671.43 116.68 L672.89 115.06 L674.35 113.44 L675.81 111.83 L677.28 110.22 L678.74 108.61 L680.20 106.99" stroke="#10B9BD"/>
<path d="M387.80 214.60 L389.26 214.60 L390.72 214.60 L392.19 214.60 L393.65 214.60 L395.11 214.60 L396.57 214.60 L398.03 214.60 L399.50 214.60 L400.96 214.60 L402.42 214.60 L403.88 214.60 L405.34 214.60 L406.81 214.60 L408.27 214.60 L409.73 214.60 L411.19 214.60 L412.65 214.60 L414.12 214.60 L415.58 214.60 L417.04 214.60 L418.50 214.60 L419.96 214.60 L421.43 214.60 L422.89 214.60 L424.35 214.60 L425.81 214.60 L427.27 214.60 L428.74 214.60 L430.20 214.60 L431.66 214.60 L433.12 214.60 L434.58 214.60 L436.05 214.60 L437.51 214.60 L438.97 214.60 L440.43 214.60 L441.89 214.60 L443.36 214.60 L444.82 214.60 L446.28 214.60 L447.74 214.60 L449.20 214.60 L450.67 214.59 L452.13 214.59 L453.59 214.58 L455.05 214.57 L456.51 214.56 L457.98 214.55 L459.44 214.53 L460.90 214.52 L462.36 214.50 L463.82 214.48 L465.29 214.46 L466.75 214.44 L468.21 214.42 L469.67 214.40 L471.13 214.38 L472.60 214.35 L474.06 214.33 L475.52 214.30 L476.98 214.26 L478.44 214.22 L479.91 214.16 L481.37 214.10 L482.83 214.03 L484.29 213.94 L485.75 213.86 L487.22 213.76 L488.68 213.66 L490.14 213.55 L491.60 213.45 L493.06 213.33 L494.53 213.22 L495.99 213.10 L497.45 212.98 L498.91 212.86 L500.37 212.73 L501.84 212.61 L503.30 212.49 L504.76 212.36 L506.22 212.24 L507.68 212.11 L509.15 211.98 L510.61 211.85 L512.07 211.71 L513.53 211.55 L514.99 211.39 L516.46 211.22 L517.92 211.04 L519.38 210.84 L520.84 210.64 L522.30 210.42 L523.77 210.18 L525.23 209.93 L526.69 209.66 L528.15 209.37 L529.61 209.06 L531.08 208.73 L532.54 208.38 L534.00 208.01 L535.46 207.61 L536.92 207.19 L538.39 206.73 L539.85 206.25 L541.31 205.72 L542.77 205.17 L544.23 204.57 L545.70 203.92 L547.16 203.23 L548.62 202.49 L550.08 201.71 L551.54 200.87 L553.01 199.98 L554.47 199.05 L555.93 198.07 L557.39 197.05 L558.85 195.99 L560.32 194.90 L561.78 193.76 L563.24 192.60 L564.70 191.40 L566.16 190.17 L567.63 188.90 L569.09 187.60 L570.55 186.26 L572.01 184.89 L573.47 183.47 L574.94 182.02 L576.40 180.53 L577.86 178.99 L579.32 177.41 L580.78 175.79 L582.25 174.12 L583.71 172.41 L585.17 170.65 L586.63 168.84 L588.09 166.98 L589.56 165.07 L591.02 163.11 L592.48 161.10 L593.94 159.03 L595.40 156.91 L596.87 154.73 L598.33 152.51 L599.79 150.23 L601.25 147.90 L602.71 145.52 L604.18 143.10 L605.64 140.62 L607.10 138.09 L608.56 135.52 L610.02 132.90 L611.49 130.26 L612.95 127.59 L614.41 124.91 L615.87 122.22 L617.33 119.53 L618.80 116.86 L620.26 114.20 L621.72 111.58 L623.18 108.98 L624.64 106.43 L626.11 103.92 L627.57 101.46 L629.03 99.04 L630.49 96.67 L631.95 94.36 L633.42 92.10 L634.88 89.90 L636.34 87.76 L637.80 85.68 L639.26 83.67 L640.73 81.72 L642.19 79.84 L643.65 78.03 L645.11 76.30 L646.57 74.63 L648.04 73.05 L649.50 71.54 L650.96 70.11 L652.42 68.76 L653.88 67.48 L655.35 66.28 L656.81 65.16 L658.27 64.10 L659.73 63.11 L661.19 62.17 L662.66 61.30 L664.12 60.49 L665.58 59.73 L667.04 59.01 L668.50 58.35 L669.97 57.72 L671.43 57.13 L672.89 56.57 L674.35 56.03 L675.81 55.51 L677.28 55.01 L678.74 54.52 L680.20 54.04" stroke="#FF97C6"/>
<path d="M387.80 214.60 L389.26 214.60 L390.72 214.60 L392.19 214.60 L393.65 214.60 L395.11 214.60 L396.57 214.60 L398.03 214.60 L399.50 214.60 L400.96 214.60 L402.42 214.60 L403.88 214.60 L405.34 214.60 L406.81 214.60 L408.27 214.60 L409.73 214.60 L411.19 214.60 L412.65 214.60 L414.12 214.60 L415.58 214.60 L417.04 214.60 L418.50 214.60 L419.96 214.60 L421.43 214.60 L422.89 214.60 L424.35 214.59 L425.81 214.59 L427.27 214.59 L428.74 214.58 L430.20 214.58 L431.66 214.57 L433.12 214.57 L434.58 214.56 L436.05 214.56 L437.51 214.55 L438.97 214.54 L440.43 214.53 L441.89 214.53 L443.36 214.52 L444.82 214.51 L446.28 214.50 L447.74 214.49 L449.20 214.47 L450.67 214.44 L452.13 214.41 L453.59 214.37 L455.05 214.33 L456.51 214.28 L457.98 214.23 L459.44 214.18 L460.90 214.12 L462.36 214.06 L463.82 213.99 L465.29 213.93 L466.75 213.86 L468.21 213.79 L469.67 213.72 L471.13 213.65 L472.60 213.57 L474.06 213.50 L475.52 213.42 L476.98 213.35 L478.44 213.27 L479.91 213.19 L481.37 213.10 L482.83 213.01 L484.29 212.91 L485.75 212.81 L487.22 212.71 L488.68 212.60 L490.14 212.48 L491.60 212.35 L493.06 212.21 L494.53 212.07 L495.99 211.91 L497.45 211.73 L498.91 211.53 L500.37 211.31 L501.84 211.07 L503.30 210.82 L504.76 210.55 L506.22 210.27 L507.68 209.96 L509.15 209.62 L510.61 209.27 L512.07 208.88 L513.53 208.47 L514.99 208.03 L516.46 207.56 L517.92 207.05 L519.38 206.51 L520.84 205.93 L522.30 205.31 L523.77 204.65 L525.23 203.94 L526.69 203.19 L528.15 202.37 L529.61 201.50 L531.08 200.57 L532.54 199.57 L534.00 198.51 L535.46 197.38 L536.92 196.16 L538.39 194.87 L539.85 193.49 L541.31 192.02 L542.77 190.45 L544.23 188.78 L545.70 187.00 L547.16 185.11 L548.62 183.10 L550.08 180.96 L551.54 178.71 L553.01 176.35 L554.47 173.89 L555.93 171.32 L557.39 168.66 L558.85 165.91 L560.32 163.08 L561.78 160.17 L563.24 157.19 L564.70 154.14 L566.16 151.03 L567.63 147.86 L569.09 144.62 L570.55 141.31 L572.01 137.93 L573.47 134.50 L574.94 131.01 L576.40 127.48 L577.86 123.92 L579.32 120.34 L580.78 116.76 L582.25 113.18 L583.71 109.62 L585.17 106.10 L586.63 102.63 L588.09 99.23 L589.56 95.91 L591.02 92.68 L592.48 89.56 L593.94 86.56 L595.40 83.68 L596.87 80.91 L598.33 78.25 L599.79 75.70 L601.25 73.24 L602.71 70.88 L604.18 68.60 L605.64 66.41 L607.10 64.30 L608.56 62.26 L610.02 60.29 L611.49 58.40 L612.95 56.59 L614.41 54.86 L615.87 53.21 L617.33 51.64 L618.80 50.17 L620.26 48.78 L621.72 47.49 L623.18 46.30 L624.64 45.19 L626.11 44.18 L627.57 43.26 L629.03 42.43 L630.49 41.69 L631.95 41.03 L633.42 40.45 L634.88 39.95 L636.34 39.53 L637.80 39.19 L639.26 38.92 L640.73 38.72 L642.19 38.60 L643.65 38.54 L645.11 38.55 L646.57 38.62 L648.04 38.76 L649.50 38.95 L650.96 39.20 L652.42 39.51 L653.88 39.86 L655.35 40.26 L656.81 40.71 L658.27 41.20 L659.73 41.73 L661.19 42.30 L662.66 42.90 L664.12 43.54 L665.58 44.20 L667.04 44.89 L668.50 45.60 L669.97 46.34 L671.43 47.10 L672.89 47.87 L674.35 48.65 L675.81 49.44 L677.28 50.25 L678.74 51.06 L680.20 51.87" stroke="#A1122F"/>
</g>
<path d="M387.80 13.60V214.60M680.20 13.60V214.60" stroke="#858585" stroke-width="1" stroke-linecap="square" fill="none"/>
<path d="M417.04 214.60v-2.9M417.04 13.60v2.9M446.28 214.60v-2.9M446.28 13.60v2.9M475.52 214.60v-2.9M475.52 13.60v2.9M504.76 214.60v-2.9M504.76 13.60v2.9M534.00 214.60v-2.9M534.00 13.60v2.9M563.24 214.60v-2.9M563.24 13.60v2.9M592.48 214.60v-2.9M592.48 13.60v2.9M621.72 214.60v-2.9M621.72 13.60v2.9M650.96 214.60v-2.9M650.96 13.60v2.9M387.80 174.40h2.9M680.20 174.40h-2.9M387.80 134.20h2.9M680.20 134.20h-2.9M387.80 94.00h2.9M680.20 94.00h-2.9M387.80 53.80h2.9M680.20 53.80h-2.9" stroke="#555" stroke-width="0.8" fill="none"/>
<g font-size="8.90" fill="#111" stroke="#111" stroke-width="0.1">
<text transform="translate(387.80 224.80) scale(0.89 1)" text-anchor="middle">0</text>
<text transform="translate(417.04 224.80) scale(0.89 1)" text-anchor="middle">5</text>
<text transform="translate(446.28 224.80) scale(0.89 1)" text-anchor="middle">10</text>
<text transform="translate(475.52 224.80) scale(0.89 1)" text-anchor="middle">15</text>
<text transform="translate(504.76 224.80) scale(0.89 1)" text-anchor="middle">20</text>
<text transform="translate(534.00 224.80) scale(0.89 1)" text-anchor="middle">25</text>
<text transform="translate(563.24 224.80) scale(0.89 1)" text-anchor="middle">30</text>
<text transform="translate(592.48 224.80) scale(0.89 1)" text-anchor="middle">35</text>
<text transform="translate(621.72 224.80) scale(0.89 1)" text-anchor="middle">40</text>
<text transform="translate(650.96 224.80) scale(0.89 1)" text-anchor="middle">45</text>
<text transform="translate(680.20 224.80) scale(0.89 1)" text-anchor="middle">50</text>
<text transform="translate(385.20 217.65) scale(0.89 1)" text-anchor="end">0</text>
<text transform="translate(385.20 177.45) scale(0.89 1)" text-anchor="end">0.5</text>
<text transform="translate(385.20 137.25) scale(0.89 1)" text-anchor="end">1</text>
<text transform="translate(385.20 97.05) scale(0.89 1)" text-anchor="end">1.5</text>
<text transform="translate(385.20 56.85) scale(0.89 1)" text-anchor="end">2</text>
<text transform="translate(385.20 16.65) scale(0.89 1)" text-anchor="end">2.5</text>
<text transform="translate(388.20 10.00) scale(0.89 1)">x 10<tspan font-size="5.2" dy="-5.3" dx="-0.3" stroke="none">6</tspan></text>
</g>
<text x="534.00" y="234.90" text-anchor="middle" font-size="8.1" fill="#111">Time(Years)</text>
<text transform="translate(368.50 114.10) rotate(-90)" text-anchor="middle" font-size="11.45" font-weight="bold" fill="#111">TB treated individuals</text>
<text x="535.10" y="258.20" text-anchor="middle" font-family="'Liberation Serif',serif" font-size="14.4" fill="#222">(h)</text>
<rect x="403.50" y="23.50" width="65" height="64.10" fill="#fff" stroke="#666" stroke-width="0.8"/>
<path d="M408.00 31.30h24.5" stroke="#D9770B" stroke-width="1.5" fill="none"/>
<text transform="translate(434.50 34.70) scale(1.36 1)" font-family="'Liberation Serif',serif" font-size="7.9" fill="#1a1a1a">α</text>
<text transform="translate(441.90 34.90) scale(0.84 1)" font-size="9.4" font-weight="bold" fill="#000" stroke="#000" stroke-width="0.1">= 0.80</text>
<path d="M408.00 43.45h24.5" stroke="#FFD200" stroke-width="1.5" fill="none"/>
<text transform="translate(434.50 46.85) scale(1.36 1)" font-family="'Liberation Serif',serif" font-size="7.9" fill="#1a1a1a">α</text>
<text transform="translate(441.90 47.05) scale(0.84 1)" font-size="9.4" font-weight="bold" fill="#000" stroke="#000" stroke-width="0.1">= 0.85</text>
<path d="M408.00 55.60h24.5" stroke="#10B9BD" stroke-width="1.5" fill="none"/>
<text transform="translate(434.50 59.00) scale(1.36 1)" font-family="'Liberation Serif',serif" font-size="7.9" fill="#1a1a1a">α</text>
<text transform="translate(441.90 59.20) scale(0.84 1)" font-size="9.4" font-weight="bold" fill="#000" stroke="#000" stroke-width="0.1">= 0.90</text>
<path d="M408.00 67.75h24.5" stroke="#FF97C6" stroke-width="1.5" fill="none"/>
<text transform="translate(434.50 71.15) scale(1.36 1)" font-family="'Liberation Serif',serif" font-size="7.9" fill="#1a1a1a">α</text>
<text transform="translate(441.90 71.35) scale(0.84 1)" font-size="9.4" font-weight="bold" fill="#000" stroke="#000" stroke-width="0.1">= 0.95</text>
<path d="M408.00 79.90h24.5" stroke="#A1122F" stroke-width="1.5" fill="none"/>
<text transform="translate(434.50 83.30) scale(1.36 1)" font-family="'Liberation Serif',serif" font-size="7.9" fill="#1a1a1a">α</text>
<text transform="translate(441.90 83.50) scale(0.84 1)" font-size="9.4" font-weight="bold" fill="#000" stroke="#000" stroke-width="0.1">= 1.00</text>
<path d="M239.30 467.36H531.40M239.30 438.61H531.40M239.30 409.87H531.40M239.30 381.13H531.40M239.30 352.39H531.40M239.30 323.64H531.40" stroke="#e7e7e7" stroke-width="0.7" fill="none"/>
<path d="M268.51 294.90V496.10" stroke="#dcdcdc" stroke-width="0.7" stroke-opacity="0.90" fill="none"/>
<path d="M297.72 294.90V496.10" stroke="#dcdcdc" stroke-width="0.7" stroke-opacity="0.90" fill="none"/>
<path d="M326.93 294.90V496.10" stroke="#dcdcdc" stroke-width="0.7" stroke-opacity="0.90" fill="none"/>
<path d="M356.14 294.90V496.10" stroke="#dcdcdc" stroke-width="0.7" stroke-opacity="0.60" fill="none"/>
<path d="M385.35 294.90V496.10" stroke="#dcdcdc" stroke-width="0.7" stroke-opacity="0.60" fill="none"/>
<path d="M414.56 294.90V496.10" stroke="#dcdcdc" stroke-width="0.7" stroke-opacity="0.50" fill="none"/>
<path d="M443.77 294.90V496.10" stroke="#dcdcdc" stroke-width="0.7" stroke-opacity="0.70" fill="none"/>
<path d="M472.98 294.90V496.10" stroke="#dcdcdc" stroke-width="0.7" stroke-opacity="0.70" fill="none"/>
<path d="M502.19 294.90V496.10" stroke="#dcdcdc" stroke-width="0.7" stroke-opacity="0.70" fill="none"/>
<path d="M239.30 294.90H531.40M239.30 496.10H531.40" stroke="#989898" stroke-width="1" fill="none"/>
<clipPath id="ci"><rect x="238.80" y="294.90" width="293.30" height="202.20"/></clipPath>
<g clip-path="url(#ci)" fill="none" stroke-width="1.85" stroke-linejoin="round" stroke-linecap="round">
<path d="M239.30 496.10 L240.76 496.10 L242.22 496.10 L243.68 496.10 L245.14 496.10 L246.60 496.10 L248.06 496.10 L249.52 496.10 L250.98 496.10 L252.44 496.10 L253.91 496.10 L255.37 496.10 L256.83 496.10 L258.29 496.10 L259.75 496.10 L261.21 496.10 L262.67 496.10 L264.13 496.10 L265.59 496.10 L267.05 496.10 L268.51 496.10 L269.97 496.10 L271.43 496.10 L272.89 496.10 L274.35 496.10 L275.81 496.10 L277.27 496.10 L278.73 496.10 L280.19 496.10 L281.65 496.10 L283.12 496.10 L284.58 496.10 L286.04 496.10 L287.50 496.10 L288.96 496.10 L290.42 496.10 L291.88 496.10 L293.34 496.10 L294.80 496.10 L296.26 496.10 L297.72 496.10 L299.18 496.10 L300.64 496.10 L302.10 496.10 L303.56 496.10 L305.02 496.10 L306.48 496.10 L307.94 496.10 L309.40 496.10 L310.86 496.10 L312.32 496.10 L313.79 496.10 L315.25 496.10 L316.71 496.10 L318.17 496.10 L319.63 496.10 L321.09 496.10 L322.55 496.10 L324.01 496.10 L325.47 496.10 L326.93 496.10 L328.39 496.10 L329.85 496.10 L331.31 496.10 L332.77 496.10 L334.23 496.10 L335.69 496.10 L337.15 496.10 L338.61 496.10 L340.07 496.10 L341.53 496.10 L343.00 496.10 L344.46 496.10 L345.92 496.10 L347.38 496.10 L348.84 496.10 L350.30 496.10 L351.76 496.10 L353.22 496.10 L354.68 496.10 L356.14 496.10 L357.60 496.10 L359.06 496.10 L360.52 496.10 L361.98 496.10 L363.44 496.10 L364.90 496.10 L366.36 496.10 L367.82 496.10 L369.28 496.10 L370.75 496.10 L372.21 496.10 L373.67 496.10 L375.13 496.10 L376.59 496.10 L378.05 496.10 L379.51 496.10 L380.97 496.10 L382.43 496.10 L383.89 496.10 L385.35 496.10 L386.81 496.10 L388.27 496.10 L389.73 496.09 L391.19 496.08 L392.65 496.07 L394.11 496.06 L395.57 496.05 L397.03 496.04 L398.49 496.02 L399.95 496.01 L401.42 495.99 L402.88 495.97 L404.34 495.95 L405.80 495.93 L407.26 495.91 L408.72 495.89 L410.18 495.87 L411.64 495.85 L413.10 495.82 L414.56 495.80 L416.02 495.77 L417.48 495.74 L418.94 495.70 L420.40 495.66 L421.86 495.61 L423.32 495.56 L424.78 495.51 L426.24 495.46 L427.70 495.40 L429.16 495.35 L430.63 495.29 L432.09 495.23 L433.55 495.18 L435.01 495.12 L436.47 495.06 L437.93 495.01 L439.39 494.96 L440.85 494.91 L442.31 494.86 L443.77 494.81 L445.23 494.77 L446.69 494.72 L448.15 494.68 L449.61 494.64 L451.07 494.60 L452.53 494.56 L453.99 494.53 L455.45 494.49 L456.91 494.45 L458.38 494.41 L459.84 494.38 L461.30 494.34 L462.76 494.30 L464.22 494.26 L465.68 494.22 L467.14 494.18 L468.60 494.14 L470.06 494.09 L471.52 494.05 L472.98 494.00 L474.44 493.95 L475.90 493.90 L477.36 493.85 L478.82 493.79 L480.28 493.74 L481.74 493.68 L483.20 493.62 L484.66 493.56 L486.12 493.49 L487.58 493.42 L489.05 493.36 L490.51 493.28 L491.97 493.21 L493.43 493.13 L494.89 493.05 L496.35 492.96 L497.81 492.87 L499.27 492.78 L500.73 492.68 L502.19 492.58 L503.65 492.48 L505.11 492.37 L506.57 492.26 L508.03 492.14 L509.49 492.02 L510.95 491.90 L512.41 491.78 L513.87 491.65 L515.33 491.52 L516.79 491.39 L518.26 491.26 L519.72 491.12 L521.18 490.99 L522.64 490.85 L524.10 490.71 L525.56 490.57 L527.02 490.43 L528.48 490.29 L529.94 490.14 L531.40 490.00" stroke="#D9770B"/>
<path d="M239.30 496.10 L240.76 496.10 L242.22 496.10 L243.68 496.10 L245.14 496.10 L246.60 496.10 L248.06 496.10 L249.52 496.10 L250.98 496.10 L252.44 496.10 L253.91 496.10 L255.37 496.10 L256.83 496.10 L258.29 496.10 L259.75 496.10 L261.21 496.10 L262.67 496.10 L264.13 496.10 L265.59 496.10 L267.05 496.10 L268.51 496.10 L269.97 496.10 L271.43 496.10 L272.89 496.10 L274.35 496.10 L275.81 496.10 L277.27 496.10 L278.73 496.10 L280.19 496.10 L281.65 496.10 L283.12 496.10 L284.58 496.10 L286.04 496.10 L287.50 496.10 L288.96 496.10 L290.42 496.10 L291.88 496.10 L293.34 496.10 L294.80 496.10 L296.26 496.10 L297.72 496.10 L299.18 496.10 L300.64 496.10 L302.10 496.10 L303.56 496.10 L305.02 496.10 L306.48 496.10 L307.94 496.10 L309.40 496.10 L310.86 496.10 L312.32 496.10 L313.79 496.10 L315.25 496.10 L316.71 496.10 L318.17 496.10 L319.63 496.10 L321.09 496.10 L322.55 496.10 L324.01 496.10 L325.47 496.10 L326.93 496.10 L328.39 496.10 L329.85 496.10 L331.31 496.10 L332.77 496.10 L334.23 496.10 L335.69 496.10 L337.15 496.10 L338.61 496.10 L340.07 496.10 L341.53 496.10 L343.00 496.10 L344.46 496.10 L345.92 496.10 L347.38 496.10 L348.84 496.10 L350.30 496.10 L351.76 496.10 L353.22 496.10 L354.68 496.10 L356.14 496.10 L357.60 496.10 L359.06 496.10 L360.52 496.09 L361.98 496.09 L363.44 496.08 L364.90 496.08 L366.36 496.07 L367.82 496.06 L369.28 496.05 L370.75 496.04 L372.21 496.03 L373.67 496.01 L375.13 496.00 L376.59 495.99 L378.05 495.97 L379.51 495.96 L380.97 495.95 L382.43 495.93 L383.89 495.92 L385.35 495.90 L386.81 495.88 L388.27 495.87 L389.73 495.85 L391.19 495.83 L392.65 495.81 L394.11 495.78 L395.57 495.76 L397.03 495.73 L398.49 495.70 L399.95 495.67 L401.42 495.64 L402.88 495.61 L404.34 495.58 L405.80 495.54 L407.26 495.51 L408.72 495.47 L410.18 495.43 L411.64 495.39 L413.10 495.34 L414.56 495.30 L416.02 495.25 L417.48 495.19 L418.94 495.13 L420.40 495.07 L421.86 495.00 L423.32 494.93 L424.78 494.85 L426.24 494.77 L427.70 494.69 L429.16 494.61 L430.63 494.53 L432.09 494.44 L433.55 494.35 L435.01 494.27 L436.47 494.18 L437.93 494.09 L439.39 494.00 L440.85 493.91 L442.31 493.82 L443.77 493.73 L445.23 493.64 L446.69 493.55 L448.15 493.46 L449.61 493.37 L451.07 493.27 L452.53 493.18 L453.99 493.08 L455.45 492.98 L456.91 492.87 L458.38 492.76 L459.84 492.65 L461.30 492.53 L462.76 492.41 L464.22 492.28 L465.68 492.14 L467.14 492.00 L468.60 491.86 L470.06 491.70 L471.52 491.54 L472.98 491.37 L474.44 491.20 L475.90 491.01 L477.36 490.82 L478.82 490.62 L480.28 490.41 L481.74 490.19 L483.20 489.97 L484.66 489.74 L486.12 489.50 L487.58 489.25 L489.05 488.99 L490.51 488.73 L491.97 488.46 L493.43 488.18 L494.89 487.89 L496.35 487.60 L497.81 487.30 L499.27 486.99 L500.73 486.67 L502.19 486.34 L503.65 486.01 L505.11 485.67 L506.57 485.32 L508.03 484.96 L509.49 484.59 L510.95 484.21 L512.41 483.82 L513.87 483.41 L515.33 483.00 L516.79 482.57 L518.26 482.12 L519.72 481.67 L521.18 481.20 L522.64 480.72 L524.10 480.23 L525.56 479.74 L527.02 479.24 L528.48 478.73 L529.94 478.23 L531.40 477.72" stroke="#FFD200"/>
<path d="M239.30 496.10 L240.76 496.10 L242.22 496.10 L243.68 496.10 L245.14 496.10 L246.60 496.10 L248.06 496.10 L249.52 496.10 L250.98 496.10 L252.44 496.10 L253.91 496.10 L255.37 496.10 L256.83 496.10 L258.29 496.10 L259.75 496.10 L261.21 496.10 L262.67 496.10 L264.13 496.10 L265.59 496.10 L267.05 496.10 L268.51 496.10 L269.97 496.10 L271.43 496.10 L272.89 496.10 L274.35 496.10 L275.81 496.10 L277.27 496.10 L278.73 496.10 L280.19 496.10 L281.65 496.10 L283.12 496.10 L284.58 496.10 L286.04 496.10 L287.50 496.10 L288.96 496.10 L290.42 496.10 L291.88 496.10 L293.34 496.10 L294.80 496.10 L296.26 496.10 L297.72 496.10 L299.18 496.10 L300.64 496.10 L302.10 496.10 L303.56 496.10 L305.02 496.10 L306.48 496.10 L307.94 496.10 L309.40 496.10 L310.86 496.10 L312.32 496.10 L313.79 496.10 L315.25 496.10 L316.71 496.10 L318.17 496.10 L319.63 496.10 L321.09 496.10 L322.55 496.10 L324.01 496.10 L325.47 496.10 L326.93 496.10 L328.39 496.10 L329.85 496.10 L331.31 496.10 L332.77 496.09 L334.23 496.09 L335.69 496.09 L337.15 496.09 L338.61 496.08 L340.07 496.08 L341.53 496.07 L343.00 496.07 L344.46 496.06 L345.92 496.05 L347.38 496.05 L348.84 496.04 L350.30 496.03 L351.76 496.02 L353.22 496.02 L354.68 496.01 L356.14 496.00 L357.60 495.99 L359.06 495.98 L360.52 495.97 L361.98 495.95 L363.44 495.94 L364.90 495.92 L366.36 495.90 L367.82 495.88 L369.28 495.86 L370.75 495.84 L372.21 495.81 L373.67 495.78 L375.13 495.75 L376.59 495.72 L378.05 495.69 L379.51 495.66 L380.97 495.62 L382.43 495.58 L383.89 495.54 L385.35 495.49 L386.81 495.44 L388.27 495.38 L389.73 495.31 L391.19 495.23 L392.65 495.15 L394.11 495.05 L395.57 494.95 L397.03 494.84 L398.49 494.73 L399.95 494.62 L401.42 494.50 L402.88 494.38 L404.34 494.25 L405.80 494.13 L407.26 494.00 L408.72 493.87 L410.18 493.74 L411.64 493.60 L413.10 493.47 L414.56 493.33 L416.02 493.20 L417.48 493.05 L418.94 492.91 L420.40 492.76 L421.86 492.61 L423.32 492.45 L424.78 492.29 L426.24 492.12 L427.70 491.95 L429.16 491.77 L430.63 491.59 L432.09 491.40 L433.55 491.20 L435.01 491.00 L436.47 490.78 L437.93 490.56 L439.39 490.33 L440.85 490.10 L442.31 489.85 L443.77 489.59 L445.23 489.32 L446.69 489.04 L448.15 488.75 L449.61 488.45 L451.07 488.14 L452.53 487.82 L453.99 487.49 L455.45 487.14 L456.91 486.78 L458.38 486.41 L459.84 486.02 L461.30 485.63 L462.76 485.22 L464.22 484.79 L465.68 484.36 L467.14 483.90 L468.60 483.44 L470.06 482.96 L471.52 482.46 L472.98 481.95 L474.44 481.43 L475.90 480.89 L477.36 480.33 L478.82 479.75 L480.28 479.15 L481.74 478.54 L483.20 477.90 L484.66 477.24 L486.12 476.55 L487.58 475.84 L489.05 475.10 L490.51 474.34 L491.97 473.55 L493.43 472.74 L494.89 471.89 L496.35 471.03 L497.81 470.13 L499.27 469.21 L500.73 468.26 L502.19 467.28 L503.65 466.28 L505.11 465.25 L506.57 464.19 L508.03 463.11 L509.49 462.00 L510.95 460.86 L512.41 459.69 L513.87 458.50 L515.33 457.29 L516.79 456.04 L518.26 454.78 L519.72 453.49 L521.18 452.17 L522.64 450.84 L524.10 449.50 L525.56 448.14 L527.02 446.77 L528.48 445.40 L529.94 444.02 L531.40 442.63" stroke="#10B9BD"/>
<path d="M239.30 496.10 L240.76 496.10 L242.22 496.10 L243.68 496.10 L245.14 496.10 L246.60 496.10 L248.06 496.10 L249.52 496.10 L250.98 496.10 L252.44 496.10 L253.91 496.10 L255.37 496.10 L256.83 496.10 L258.29 496.10 L259.75 496.10 L261.21 496.10 L262.67 496.10 L264.13 496.10 L265.59 496.10 L267.05 496.10 L268.51 496.10 L269.97 496.10 L271.43 496.10 L272.89 496.10 L274.35 496.10 L275.81 496.10 L277.27 496.10 L278.73 496.10 L280.19 496.10 L281.65 496.10 L283.12 496.10 L284.58 496.10 L286.04 496.10 L287.50 496.10 L288.96 496.10 L290.42 496.10 L291.88 496.10 L293.34 496.10 L294.80 496.10 L296.26 496.10 L297.72 496.10 L299.18 496.10 L300.64 496.10 L302.10 496.10 L303.56 496.10 L305.02 496.10 L306.48 496.10 L307.94 496.10 L309.40 496.10 L310.86 496.10 L312.32 496.10 L313.79 496.10 L315.25 496.10 L316.71 496.10 L318.17 496.10 L319.63 496.10 L321.09 496.10 L322.55 496.10 L324.01 496.10 L325.47 496.10 L326.93 496.10 L328.39 496.10 L329.85 496.10 L331.31 496.09 L332.77 496.09 L334.23 496.08 L335.69 496.07 L337.15 496.06 L338.61 496.04 L340.07 496.03 L341.53 496.01 L343.00 496.00 L344.46 495.98 L345.92 495.96 L347.38 495.94 L348.84 495.92 L350.30 495.90 L351.76 495.88 L353.22 495.85 L354.68 495.83 L356.14 495.80 L357.60 495.77 L359.06 495.73 L360.52 495.69 L361.98 495.64 L363.44 495.59 L364.90 495.52 L366.36 495.46 L367.82 495.39 L369.28 495.31 L370.75 495.23 L372.21 495.15 L373.67 495.06 L375.13 494.97 L376.59 494.87 L378.05 494.77 L379.51 494.67 L380.97 494.56 L382.43 494.45 L383.89 494.33 L385.35 494.21 L386.81 494.08 L388.27 493.94 L389.73 493.80 L391.19 493.64 L392.65 493.48 L394.11 493.31 L395.57 493.14 L397.03 492.95 L398.49 492.76 L399.95 492.55 L401.42 492.33 L402.88 492.11 L404.34 491.87 L405.80 491.62 L407.26 491.36 L408.72 491.09 L410.18 490.80 L411.64 490.50 L413.10 490.19 L414.56 489.86 L416.02 489.52 L417.48 489.17 L418.94 488.79 L420.40 488.40 L421.86 487.99 L423.32 487.56 L424.78 487.10 L426.24 486.62 L427.70 486.11 L429.16 485.58 L430.63 485.02 L432.09 484.43 L433.55 483.81 L435.01 483.17 L436.47 482.50 L437.93 481.80 L439.39 481.08 L440.85 480.33 L442.31 479.56 L443.77 478.76 L445.23 477.94 L446.69 477.10 L448.15 476.23 L449.61 475.33 L451.07 474.41 L452.53 473.47 L453.99 472.49 L455.45 471.49 L456.91 470.47 L458.38 469.41 L459.84 468.33 L461.30 467.21 L462.76 466.06 L464.22 464.88 L465.68 463.66 L467.14 462.40 L468.60 461.10 L470.06 459.76 L471.52 458.37 L472.98 456.93 L474.44 455.44 L475.90 453.91 L477.36 452.33 L478.82 450.70 L480.28 449.03 L481.74 447.32 L483.20 445.57 L484.66 443.79 L486.12 441.97 L487.58 440.12 L489.05 438.24 L490.51 436.34 L491.97 434.41 L493.43 432.45 L494.89 430.49 L496.35 428.50 L497.81 426.51 L499.27 424.51 L500.73 422.50 L502.19 420.50 L503.65 418.49 L505.11 416.48 L506.57 414.47 L508.03 412.45 L509.49 410.43 L510.95 408.38 L512.41 406.33 L513.87 404.25 L515.33 402.15 L516.79 400.03 L518.26 397.88 L519.72 395.71 L521.18 393.51 L522.64 391.29 L524.10 389.06 L525.56 386.81 L527.02 384.55 L528.48 382.28 L529.94 380.01 L531.40 377.74" stroke="#FF97C6"/>
<path d="M239.30 496.10 L240.76 496.10 L242.22 496.10 L243.68 496.10 L245.14 496.10 L246.60 496.10 L248.06 496.10 L249.52 496.10 L250.98 496.10 L252.44 496.10 L253.91 496.10 L255.37 496.10 L256.83 496.10 L258.29 496.10 L259.75 496.10 L261.21 496.10 L262.67 496.10 L264.13 496.10 L265.59 496.10 L267.05 496.10 L268.51 496.10 L269.97 496.10 L271.43 496.10 L272.89 496.10 L274.35 496.10 L275.81 496.10 L277.27 496.10 L278.73 496.10 L280.19 496.10 L281.65 496.10 L283.12 496.10 L284.58 496.10 L286.04 496.10 L287.50 496.10 L288.96 496.10 L290.42 496.10 L291.88 496.10 L293.34 496.10 L294.80 496.10 L296.26 496.10 L297.72 496.10 L299.18 496.10 L300.64 496.10 L302.10 496.10 L303.56 496.10 L305.02 496.09 L306.48 496.09 L307.94 496.09 L309.40 496.08 L310.86 496.08 L312.32 496.07 L313.79 496.07 L315.25 496.06 L316.71 496.06 L318.17 496.05 L319.63 496.04 L321.09 496.03 L322.55 496.03 L324.01 496.02 L325.47 496.01 L326.93 496.00 L328.39 495.99 L329.85 495.97 L331.31 495.95 L332.77 495.93 L334.23 495.90 L335.69 495.87 L337.15 495.84 L338.61 495.80 L340.07 495.76 L341.53 495.71 L343.00 495.66 L344.46 495.61 L345.92 495.56 L347.38 495.50 L348.84 495.45 L350.30 495.38 L351.76 495.32 L353.22 495.25 L354.68 495.18 L356.14 495.11 L357.60 495.03 L359.06 494.94 L360.52 494.84 L361.98 494.73 L363.44 494.61 L364.90 494.49 L366.36 494.36 L367.82 494.21 L369.28 494.07 L370.75 493.91 L372.21 493.74 L373.67 493.57 L375.13 493.38 L376.59 493.18 L378.05 492.95 L379.51 492.71 L380.97 492.45 L382.43 492.18 L383.89 491.89 L385.35 491.58 L386.81 491.25 L388.27 490.90 L389.73 490.53 L391.19 490.13 L392.65 489.71 L394.11 489.26 L395.57 488.78 L397.03 488.27 L398.49 487.72 L399.95 487.14 L401.42 486.53 L402.88 485.87 L404.34 485.18 L405.80 484.44 L407.26 483.66 L408.72 482.85 L410.18 481.98 L411.64 481.08 L413.10 480.13 L414.56 479.13 L416.02 478.09 L417.48 477.00 L418.94 475.85 L420.40 474.66 L421.86 473.41 L423.32 472.11 L424.78 470.75 L426.24 469.34 L427.70 467.87 L429.16 466.33 L430.63 464.74 L432.09 463.09 L433.55 461.38 L435.01 459.63 L436.47 457.83 L437.93 455.99 L439.39 454.11 L440.85 452.20 L442.31 450.27 L443.77 448.31 L445.23 446.33 L446.69 444.33 L448.15 442.31 L449.61 440.27 L451.07 438.21 L452.53 436.13 L453.99 434.03 L455.45 431.90 L456.91 429.75 L458.38 427.57 L459.84 425.37 L461.30 423.15 L462.76 420.89 L464.22 418.61 L465.68 416.29 L467.14 413.94 L468.60 411.56 L470.06 409.14 L471.52 406.68 L472.98 404.18 L474.44 401.64 L475.90 399.06 L477.36 396.45 L478.82 393.79 L480.28 391.10 L481.74 388.38 L483.20 385.63 L484.66 382.84 L486.12 380.03 L487.58 377.19 L489.05 374.33 L490.51 371.45 L491.97 368.56 L493.43 365.66 L494.89 362.77 L496.35 359.88 L497.81 357.01 L499.27 354.15 L500.73 351.33 L502.19 348.54 L503.65 345.79 L505.11 343.07 L506.57 340.39 L508.03 337.75 L509.49 335.14 L510.95 332.56 L512.41 330.01 L513.87 327.49 L515.33 324.99 L516.79 322.51 L518.26 320.06 L519.72 317.62 L521.18 315.21 L522.64 312.80 L524.10 310.41 L525.56 308.03 L527.02 305.66 L528.48 303.29 L529.94 300.93 L531.40 298.57" stroke="#A1122F"/>
</g>
<path d="M239.30 294.90V496.10M531.40 294.90V496.10" stroke="#858585" stroke-width="1" stroke-linecap="square" fill="none"/>
<path d="M268.51 496.10v-2.9M268.51 294.90v2.9M297.72 496.10v-2.9M297.72 294.90v2.9M326.93 496.10v-2.9M326.93 294.90v2.9M356.14 496.10v-2.9M356.14 294.90v2.9M385.35 496.10v-2.9M385.35 294.90v2.9M414.56 496.10v-2.9M414.56 294.90v2.9M443.77 496.10v-2.9M443.77 294.90v2.9M472.98 496.10v-2.9M472.98 294.90v2.9M502.19 496.10v-2.9M502.19 294.90v2.9M239.30 467.36h2.9M531.40 467.36h-2.9M239.30 438.61h2.9M531.40 438.61h-2.9M239.30 409.87h2.9M531.40 409.87h-2.9M239.30 381.13h2.9M531.40 381.13h-2.9M239.30 352.39h2.9M531.40 352.39h-2.9M239.30 323.64h2.9M531.40 323.64h-2.9" stroke="#555" stroke-width="0.8" fill="none"/>
<g font-size="8.90" fill="#111" stroke="#111" stroke-width="0.1">
<text transform="translate(239.30 506.30) scale(0.89 1)" text-anchor="middle">0</text>
<text transform="translate(268.51 506.30) scale(0.89 1)" text-anchor="middle">5</text>
<text transform="translate(297.72 506.30) scale(0.89 1)" text-anchor="middle">10</text>
<text transform="translate(326.93 506.30) scale(0.89 1)" text-anchor="middle">15</text>
<text transform="translate(356.14 506.30) scale(0.89 1)" text-anchor="middle">20</text>
<text transform="translate(385.35 506.30) scale(0.89 1)" text-anchor="middle">25</text>
<text transform="translate(414.56 506.30) scale(0.89 1)" text-anchor="middle">30</text>
<text transform="translate(443.77 506.30) scale(0.89 1)" text-anchor="middle">35</text>
<text transform="translate(472.98 506.30) scale(0.89 1)" text-anchor="middle">40</text>
<text transform="translate(502.19 506.30) scale(0.89 1)" text-anchor="middle">45</text>
<text transform="translate(531.40 506.30) scale(0.89 1)" text-anchor="middle">50</text>
<text transform="translate(236.70 499.15) scale(0.89 1)" text-anchor="end">0</text>
<text transform="translate(236.70 470.41) scale(0.89 1)" text-anchor="end">1</text>
<text transform="translate(236.70 441.66) scale(0.89 1)" text-anchor="end">2</text>
<text transform="translate(236.70 412.92) scale(0.89 1)" text-anchor="end">3</text>
<text transform="translate(236.70 384.18) scale(0.89 1)" text-anchor="end">4</text>
<text transform="translate(236.70 355.44) scale(0.89 1)" text-anchor="end">5</text>
<text transform="translate(236.70 326.69) scale(0.89 1)" text-anchor="end">6</text>
<text transform="translate(236.70 297.95) scale(0.89 1)" text-anchor="end">7</text>
<text transform="translate(239.70 291.30) scale(0.89 1)">x 10<tspan font-size="5.2" dy="-5.3" dx="-0.3" stroke="none">6</tspan></text>
</g>
<text x="385.35" y="518.70" text-anchor="middle" font-size="11.15" font-weight="bold" fill="#111">Time(Years)</text>
<text transform="translate(225.80 395.50) rotate(-90)" text-anchor="middle" font-size="11.60" font-weight="bold" fill="#111">TB recovered individuals</text>
<text x="387.60" y="544.00" text-anchor="middle" font-family="'Liberation Serif',serif" font-size="14.4" fill="#222">(i)</text>
<rect x="262.00" y="312.40" width="65" height="61.00" fill="#fff" stroke="#666" stroke-width="0.8"/>
<path d="M266.50 319.40h24.5" stroke="#D9770B" stroke-width="1.5" fill="none"/>
<text transform="translate(293.00 322.80) scale(1.36 1)" font-family="'Liberation Serif',serif" font-size="7.9" fill="#1a1a1a">α</text>
<text transform="translate(300.40 323.00) scale(0.84 1)" font-size="9.4" font-weight="bold" fill="#000" stroke="#000" stroke-width="0.1">= 0.80</text>
<path d="M266.50 331.23h24.5" stroke="#FFD200" stroke-width="1.5" fill="none"/>
<text transform="translate(293.00 334.63) scale(1.36 1)" font-family="'Liberation Serif',serif" font-size="7.9" fill="#1a1a1a">α</text>
<text transform="translate(300.40 334.83) scale(0.84 1)" font-size="9.4" font-weight="bold" fill="#000" stroke="#000" stroke-width="0.1">= 0.85</text>
<path d="M266.50 343.06h24.5" stroke="#10B9BD" stroke-width="1.5" fill="none"/>
<text transform="translate(293.00 346.46) scale(1.36 1)" font-family="'Liberation Serif',serif" font-size="7.9" fill="#1a1a1a">α</text>
<text transform="translate(300.40 346.66) scale(0.84 1)" font-size="9.4" font-weight="bold" fill="#000" stroke="#000" stroke-width="0.1">= 0.90</text>
<path d="M266.50 354.89h24.5" stroke="#FF97C6" stroke-width="1.5" fill="none"/>
<text transform="translate(293.00 358.29) scale(1.36 1)" font-family="'Liberation Serif',serif" font-size="7.9" fill="#1a1a1a">α</text>
<text transform="translate(300.40 358.49) scale(0.84 1)" font-size="9.4" font-weight="bold" fill="#000" stroke="#000" stroke-width="0.1">= 0.95</text>
<path d="M266.50 366.72h24.5" stroke="#A1122F" stroke-width="1.5" fill="none"/>
<text transform="translate(293.00 370.12) scale(1.36 1)" font-family="'Liberation Serif',serif" font-size="7.9" fill="#1a1a1a">α</text>
<text transform="translate(300.40 370.32) scale(0.84 1)" font-size="9.4" font-weight="bold" fill="#000" stroke="#000" stroke-width="0.1">= 1.00</text>
</svg>
</body></html>
